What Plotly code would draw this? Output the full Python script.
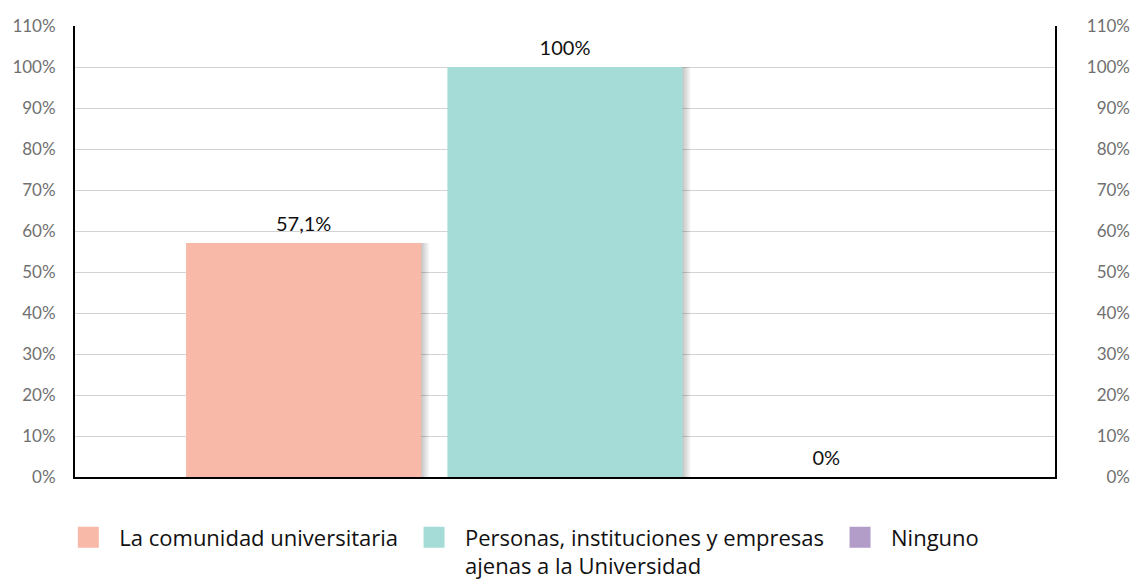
import plotly.graph_objects as go

categories = ["La comunidad universitaria",
              "Personas, instituciones y empresas<br>ajenas a la Universidad",
              "Ninguno"]
values = [57.1, 100, 0]
colors = ["#F8B9A9", "#A6DCD8", "#B29CC8"]
tick_vals = list(range(0, 111, 10))
tick_text = [f"{v}%" for v in tick_vals]

def fmt(v):
    s = f"{v:g}".replace(".", ",")
    return s + "%"

positions = list(range(len(values)))

fig = go.Figure()

# soft shadows to the right of bars
for k in range(1, 6):
    fig.add_trace(go.Bar(
        x=[p + 0.006 * k for p in positions], y=values, width=0.9,
        marker=dict(color="rgba(0,0,0,0.045)", line=dict(width=0)),
        showlegend=False, hoverinfo="skip"))

for i, (c, v, col) in enumerate(zip(categories, values, colors)):
    fig.add_trace(go.Bar(
        x=[positions[i]], y=[v], width=0.9, name=c,
        marker=dict(color=col, line=dict(width=0)),
        showlegend=False))
    fig.add_trace(go.Scatter(
        x=[None], y=[None], mode="markers", name=c, yaxis="y2",
        marker=dict(symbol="square", size=16, color=col,
                    line=dict(width=5, color=col)),
        showlegend=True))

# value labels above bars
fig.add_trace(go.Scatter(
    x=positions, y=values, mode="markers+text",
    text=[fmt(v) for v in values], textposition="top center",
    marker=dict(size=10, color="rgba(0,0,0,0)"),
    textfont=dict(family="Lato", size=20, color="#111111"),
    cliponaxis=False, showlegend=False, hoverinfo="skip"))

fig.update_layout(
    width=1135, height=579,
    margin=dict(l=75, r=5, t=26, b=102),
    paper_bgcolor="white", plot_bgcolor="white",
    barmode="overlay",
    showlegend=True,
    legend=dict(orientation="h", xref="container", yref="container",
                x=0.0505, xanchor="left", y=0.108, yanchor="top",
                font=dict(family="Open Sans", size=22, color="#111111"),
                itemsizing="trace", itemwidth=52, valign="top",
                traceorder="normal"),
    xaxis=dict(domain=[0, 980 / 1055], range=[-0.875, 2.875],
               showticklabels=False, showgrid=False, zeroline=False,
               showline=True, linecolor="black", linewidth=2, fixedrange=True),
    yaxis=dict(range=[0, 110], tickvals=tick_vals, ticktext=tick_text,
               showgrid=True, gridcolor="#D3D3D3", gridwidth=1,
               zeroline=False, showline=True, mirror=True,
               linecolor="black", linewidth=2, ticks="",
               ticklabelstandoff=14,
               tickfont=dict(family="Lato", size=17, color="#707070")),
    yaxis2=dict(range=[0, 110], tickvals=tick_vals, ticktext=tick_text,
                overlaying="y", anchor="free", position=1, side="left",
                showgrid=False, zeroline=False, showline=False, ticks="",
                tickfont=dict(family="Lato", size=17, color="#707070")),
)

fig.write_html("out.html")
